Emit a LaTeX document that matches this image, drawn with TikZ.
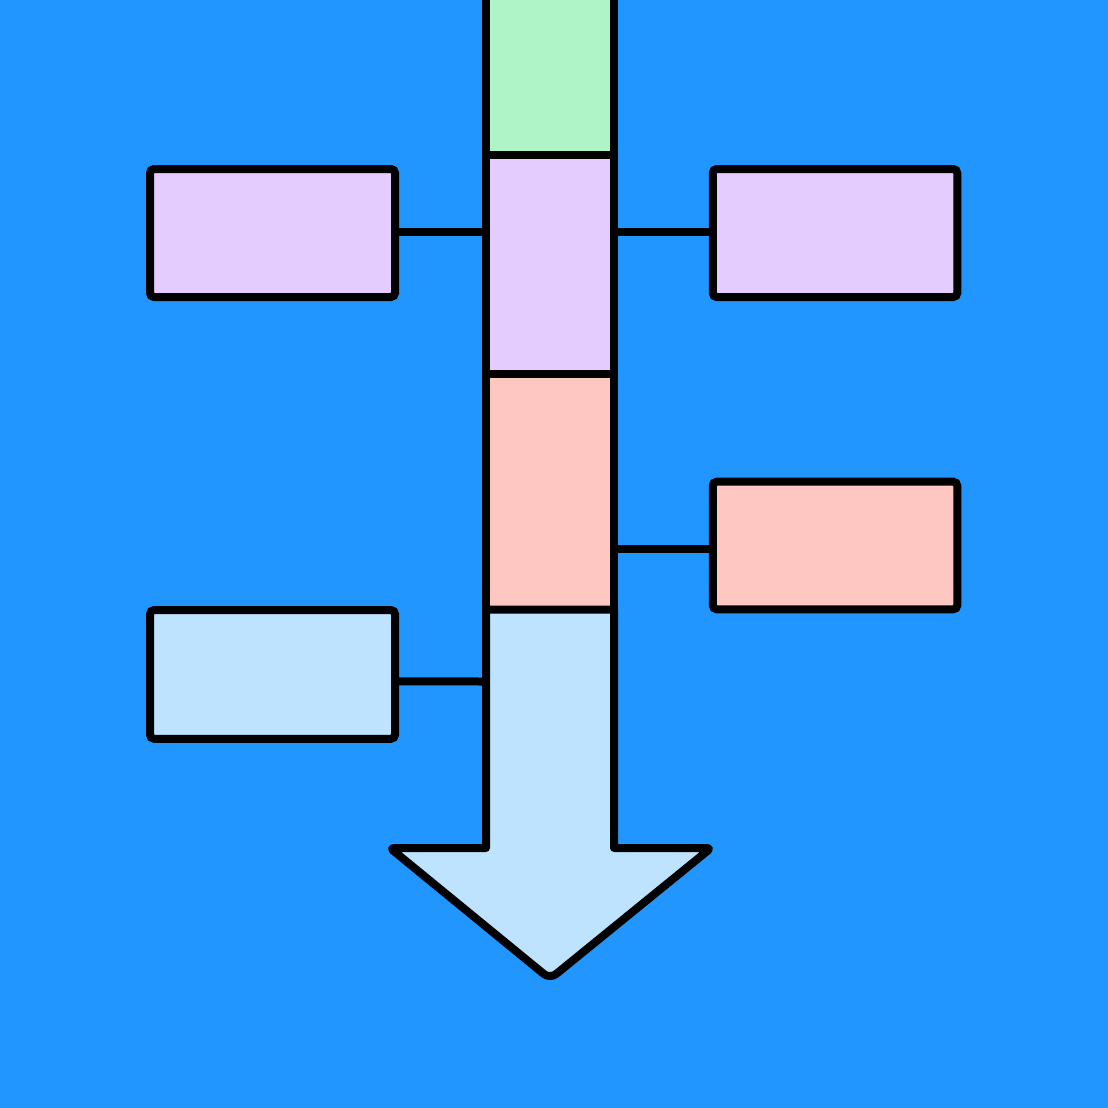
\documentclass[tikz,border=0pt]{standalone}
\definecolor{bgblue}{RGB}{34,150,255}
\definecolor{cgreen}{RGB}{175,244,198}
\definecolor{cpurple}{RGB}{228,204,255}
\definecolor{cpink}{RGB}{255,199,194}
\definecolor{clblue}{RGB}{189,227,255}
\begin{document}
\begin{tikzpicture}[x=1pt,y=-1pt,
  box/.style={draw=black,line width=8pt,rounded corners=4pt,inner sep=0pt,outer sep=0pt,rectangle,minimum width=245pt,minimum height=128pt},
  seg/.style={draw=black,line width=8pt,inner sep=0pt,outer sep=0pt,rectangle,minimum width=128pt},
  link/.style={draw=black,line width=8pt}]
\useasboundingbox (0,0) rectangle (1108,1108);
\fill[bgblue] (0,0) rectangle (1108,1108);
\begin{scope}
\clip (0,0) rectangle (1108,1108);
% central column
\node[seg,fill=cgreen,minimum height=164.5pt] (green) at (550,72.25) {};
\node[seg,fill=cpurple,minimum height=219.5pt] (purple) at (550,264.25) {};
\node[seg,fill=cpink,minimum height=235.5pt] (pink) at (550,491.75) {};
% arrow
\draw[fill=clblue,line width=8pt,line join=round]
  (486,609.5) -- (486,848) [rounded corners=4pt] -- (390,848) [rounded corners=8pt] -- (550,979) [rounded corners=4pt] -- (711,848) [sharp corners] -- (614,848) -- (614,609.5) -- cycle;
\coordinate (arrowtop) at (550,609.5);
% side boxes
\node[box,fill=cpurple] (lpurple) at (272.5,233) {};
\node[box,fill=cpurple,minimum width=244.5pt] (rpurple) at (835,233) {};
\node[box,fill=cpink,minimum width=244.5pt,minimum height=127.6pt] (rpink) at (835,545.5) {};
\node[box,fill=clblue,minimum height=128.7pt] (lblue) at (272.5,674.4) {};
% connectors
\draw[link] ([yshift=1pt]lpurple.east) -- ([yshift=1pt]lpurple.east -| purple.west);
\draw[link] ([yshift=1pt]rpurple.west) -- ([yshift=1pt]rpurple.west -| purple.east);
\draw[link] ([yshift=-3.5pt]rpink.west) -- ([yshift=-3.5pt]rpink.west -| pink.east);
\coordinate (shaftL) at (486,681.5);
\draw[link] ([yshift=-7pt]lblue.east) -- (shaftL);
\end{scope}
\end{tikzpicture}
\end{document}
